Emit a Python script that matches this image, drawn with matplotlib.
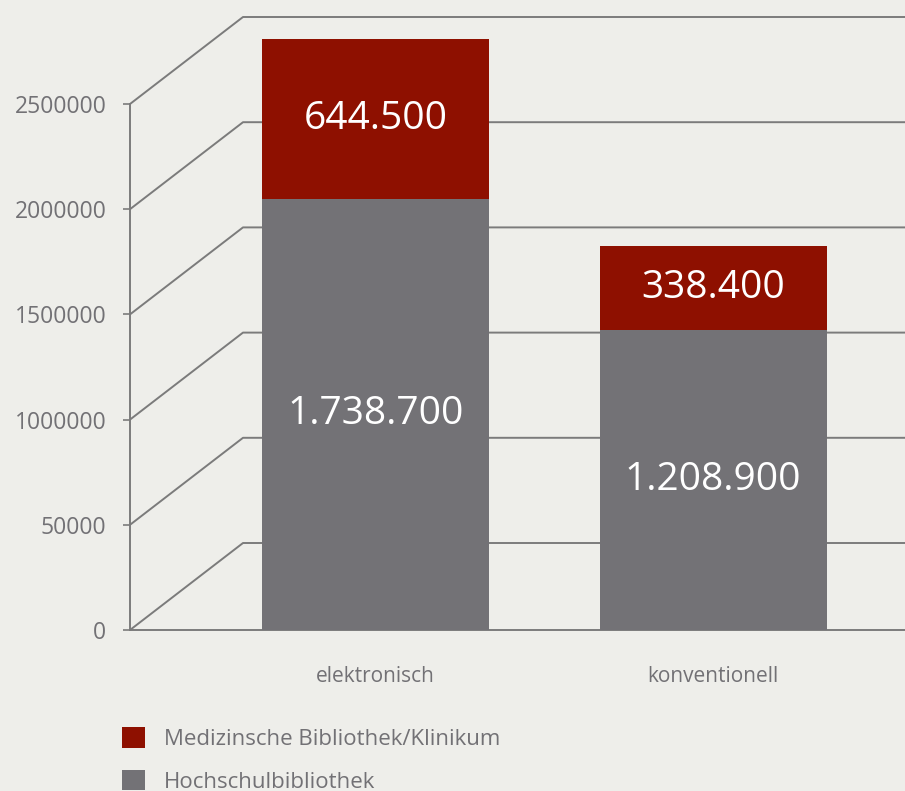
import numpy as np
import matplotlib
matplotlib.use('Agg')
import matplotlib.pyplot as plt

# Daten: Bestand nach Medienart
kategorien = ['elektronisch', 'konventionell']
hochschule = [1738700, 1208900]
medizin = [644500, 338400]
reihen = ['Hochschulbibliothek', 'Medizinsche Bibliothek/Klinikum']
y_ticks = [0, 500000, 1000000, 1500000, 2000000, 2500000]
y_labels = ['0', '50000', '1000000', '1500000', '2000000', '2500000']

BG = '#EEEEEA'
ROT = '#8E1000'
GRAU = '#737276'
LINIE = '#7B7B7B'
TEXT = '#727175'

plt.rcParams['font.family'] = ['Open Sans', 'DejaVu Sans']

W, H = 905, 791
fig = plt.figure(figsize=(W / 100, H / 100), dpi=100, facecolor=BG)

# Achsenbereich: linke Vorderkante bei x=130 px, Boden bei y=630 px
links, boden = 130, 630
ax = fig.add_axes([links / W, (H - boden) / H, (W - links) / W, boden / H])
ax.patch.set_visible(False)

x = np.arange(len(kategorien))
abstand = 337.5          # px zwischen den Balkenmitten
x_min = -(375.5 - links) / abstand
x_max = x_min + (W - links) / abstand
ax.set_xlim(x_min, x_max)

px_pro_wert = 210.4 / 1e6            # Skala der Rasterlinien
ax.set_ylim(0, boden / px_pro_wert)

# Pseudo-3D-Raster: schräg nach hinten, dann waagerecht
tiefe_x = 113 / abstand
tiefe_y = 87 / px_pro_wert
for v in y_ticks:
    ax.plot([x_min, x_min + tiefe_x, x_max], [v, v + tiefe_y, v + tiefe_y],
            color=LINIE, lw=1.4, solid_capstyle='butt', clip_on=False, zorder=1)

for s in ['top', 'right']:
    ax.spines[s].set_visible(False)
ax.spines['left'].set_bounds(0, y_ticks[-1])
ax.spines['left'].set_color(LINIE)
ax.spines['left'].set_linewidth(1.4)
ax.spines['bottom'].set_color(LINIE)
ax.spines['bottom'].set_linewidth(1.4)

ax.set_yticks(y_ticks, y_labels)
ax.tick_params(axis='y', direction='out', length=5, width=1.2, color=LINIE,
               labelcolor=TEXT, labelsize=16.5, pad=12)
ax.set_xticks(x, kategorien)
ax.tick_params(axis='x', length=0, labelcolor=TEXT, labelsize=15, pad=26)

# Balken auf eigener Skala
axb = ax.twinx()
axb.patch.set_visible(False)
axb.set_ylim(0, boden / (248 / 1e6))
axb.axis('off')

breite = 227 / abstand
b1 = axb.bar(x, hochschule, width=breite, color=GRAU, label=reihen[0], zorder=3)
b2 = axb.bar(x, medizin, width=breite, bottom=hochschule, color=ROT,
             label=reihen[1], zorder=3)

fmt = lambda v: f'{v:,}'.replace(',', '.')
axb.bar_label(b1, labels=[fmt(v) for v in hochschule], label_type='center',
              color='white', fontsize=28)
axb.bar_label(b2, labels=[fmt(v) for v in medizin], label_type='center',
              color='white', fontsize=28)

fig.legend(handles=[b2, b1], labels=[reihen[1], reihen[0]],
           loc='upper left', bbox_to_anchor=(113 / W, 1 - 718 / H),
           frameon=False, fontsize=16, labelcolor=TEXT,
           handlelength=1.05, handleheight=1.05, handletextpad=0.85,
           labelspacing=0.9, borderaxespad=0)

fig.savefig('out.png', dpi=100, facecolor=BG)
